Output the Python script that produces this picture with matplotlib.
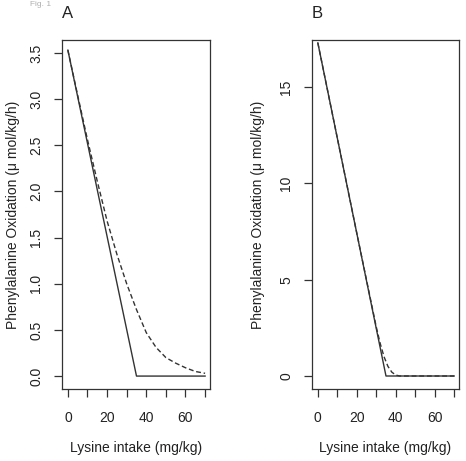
import matplotlib
matplotlib.use("Agg")
import matplotlib.pyplot as plt

plt.rcParams['font.family'] = ['Liberation Sans', 'DejaVu Sans']

# Panel A data
a_solid_x = [0, 35, 70]
a_solid_y = [3.53, 0.0, 0.0]
a_dash_x = [0, 5, 10, 15, 20, 25, 30, 35, 40, 45, 50, 55, 60, 65, 70]
a_dash_y = [3.53, 3.04, 2.56, 2.11, 1.68, 1.32, 1.00, 0.72, 0.47, 0.31, 0.20, 0.14, 0.09, 0.05, 0.03]

# Panel B data
b_solid_x = [0, 35, 70]
b_solid_y = [17.3, 0.0, 0.0]
b_dash_x = [0, 10, 20, 30, 32, 34, 36, 38, 40, 42, 70]
b_dash_y = [17.3, 12.36, 7.42, 2.55, 1.7, 1.0, 0.5, 0.2, 0.05, 0.0, 0.0]

xticks = [0, 10, 20, 30, 40, 50, 60, 70]
xticklabels = ['0', '', '20', '', '40', '', '60', '']
a_yticks = [0.0, 0.5, 1.0, 1.5, 2.0, 2.5, 3.0, 3.5]
a_yticklabels = ['0.0', '0.5', '1.0', '1.5', '2.0', '2.5', '3.0', '3.5']
b_yticks = [0, 5, 10, 15]
b_yticklabels = ['0', '5', '10', '15']

xlabel = 'Lysine intake (mg/kg)'
ylabel = 'Phenylalanine Oxidation (\u03bc mol/kg/h)'

W, H = 466, 461
fig = plt.figure(figsize=(W / 100, H / 100), dpi=100)
fig.patch.set_facecolor('white')

col = '#333333'
fs = 10

def setup(ax, yticks, yticklabels, ylim, ylabel_x, title):
    ax.set_xlim(-3.0, 72.5)
    ax.set_ylim(*ylim)
    ax.set_xticks(xticks)
    ax.set_xticklabels(xticklabels)
    ax.set_yticks(yticks)
    ax.set_yticklabels(yticklabels)
    ax.tick_params(axis='x', direction='out', length=5.5, width=0.9, color=col,
                   labelsize=fs, pad=10, labelcolor='#222222')
    ax.tick_params(axis='y', direction='out', length=5.5, width=0.9, color=col,
                   labelsize=fs, pad=8, labelcolor='#222222', labelrotation=90)
    for lab in ax.get_yticklabels():
        lab.set_va('center')
    for s in ax.spines.values():
        s.set_color(col)
        s.set_linewidth(0.9)
    ax.set_xlabel(xlabel, fontsize=fs, va='center', color='#222222')
    ax.xaxis.set_label_coords(0.5, -0.169)
    ax.set_ylabel(ylabel, fontsize=fs, va='center', color='#222222')
    ax.yaxis.set_label_coords(ylabel_x, 0.5)
    ax.text(0.0, 1.075, title, transform=ax.transAxes, fontsize=fs + 2,
            ha='left', va='center', color='#222222')

axA = fig.add_axes([62 / W, (H - 389) / H, 148 / W, 349 / H])
axA.plot(a_solid_x, a_solid_y, color=col, lw=1.0)
axA.plot(a_dash_x, a_dash_y, color=col, lw=1.0, ls=(0, (3.5, 2)))
setup(axA, a_yticks, a_yticklabels, (-0.14, 3.64), -0.331, 'A')

axB = fig.add_axes([312 / W, (H - 389) / H, 147 / W, 349 / H])
axB.plot(b_solid_x, b_solid_y, color=col, lw=1.0)
axB.plot(b_dash_x, b_dash_y, color=col, lw=1.0, ls=(0, (3.5, 2)))
setup(axB, b_yticks, b_yticklabels, (-0.675, 17.45), -0.367, 'B')

fig.text(30 / W, 1.0 - 4 / H, 'Fig. 1', fontsize=6, color='#b0b0b0', ha='left', va='center')

fig.savefig('out.png', dpi=100, facecolor='white')
